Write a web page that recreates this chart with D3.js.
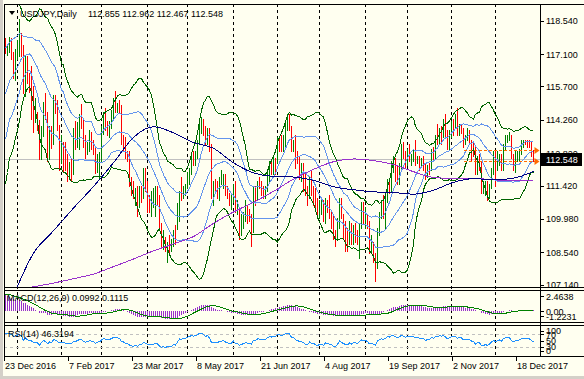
<!DOCTYPE html>
<html><head><meta charset="utf-8">
<script src="https://cdn.jsdelivr.net/npm/d3@7"></script>
<style>
html,body{margin:0;padding:0;background:#fffff0;overflow:hidden;}
svg{display:block;font-family:"Liberation Sans",Arial,sans-serif;}
</style></head><body>
<svg id="c" width="584" height="379"></svg>
<script>
// ---------------- DATA ----------------
const symbolTitle = "USDJPY,Daily";
const lastOHLCText = "112.855 112.962 112.467 112.548";
const firstBarDate = "2016-12-23";
const missingDays = ["2017-12-25"];

const opens = [
117.55,117.30,117.35,117.45,117.10,116.55,
116.95,117.45,117.75,117.25,115.35,116.95,115.95,115.75,115.35,114.45,114.50,114.20,112.70,113.80,114.90,114.55,112.75,113.80,113.25,115.15,115.05,113.95,
112.80,113.20,112.80,112.60,112.30,112.35,111.95,113.25,113.20,113.70,114.25,114.20,113.20,112.90,113.10,113.60,113.30,113.00,112.10,112.70,
112.75,113.70,114.45,114.00,113.90,114.00,114.40,115.00,114.80,114.85,114.75,113.40,113.30,112.70,112.60,111.70,111.20,111.00,111.30,110.60,111.10,111.00,111.90,
111.40,110.90,110.70,110.75,110.80,111.10,110.90,109.60,109.00,109.10,108.60,108.90,108.80,108.90,109.30,109.60,110.00,111.10,111.00,111.30,
111.45,111.90,112.10,112.70,112.50,112.70,113.30,114.00,114.20,113.90,113.35,113.80,113.10,111.20,111.40,111.25,111.10,111.60,111.65,111.80,111.30,111.00,110.70,
110.80,111.40,110.40,110.45,109.50,109.80,110.00,110.30,110.10,110.00,109.60,111.00,110.85,111.50,111.45,111.30,111.25,111.30,111.90,112.30,112.25,112.50,
112.40,113.30,113.25,113.20,113.30,113.90,114.05,113.95,113.20,113.30,112.60,112.55,112.00,112.05,111.90,111.10,111.00,111.70,111.30,111.20,110.65,
110.30,110.60,110.65,110.05,110.70,110.60,110.30,110.05,109.20,109.15,109.70,110.70,110.10,109.60,109.20,109.00,109.60,109.00,109.60,109.35,109.20,109.70,110.30,
110.00,110.20,109.70,108.70,108.80,108.40,107.85,109.40,110.20,110.50,110.20,110.80,111.60,111.50,112.30,112.50,112.00,111.70,112.20,113.20,112.80,
112.50,112.80,112.70,112.75,112.80,112.60,112.65,112.40,112.50,112.30,111.80,112.20,112.15,112.90,112.60,113.50,113.40,113.85,113.70,114.10,113.65,113.20,
113.60,114.10,114.05,114.10,113.70,114.00,113.85,113.40,113.50,113.60,113.40,113.10,113.05,112.10,112.60,112.40,111.20,111.25,111.50,111.10,111.40,112.00,
112.50,112.10,112.40,112.60,112.20,113.10,113.45,113.50,113.55,112.60,112.35,112.60,112.65,112.90,113.30,113.35,113.30,113.25,113.20,112.855];

const highs = [
117.80,117.50,117.85,117.80,117.20,117.30,
117.70,118.60,118.00,117.50,117.05,117.00,116.30,116.60,115.70,115.20,114.60,114.25,114.00,115.05,115.40,114.60,114.00,114.00,115.35,115.35,115.10,114.05,
113.60,113.30,113.30,112.80,112.45,112.60,113.90,114.20,114.15,114.50,114.95,114.25,113.60,113.30,113.80,113.75,113.40,113.10,112.80,112.85,
114.00,114.60,114.75,114.20,114.20,114.70,115.20,115.50,115.00,115.10,114.90,113.60,113.50,112.90,112.90,111.80,111.60,111.30,111.40,111.40,111.40,112.20,112.20,
111.60,111.00,111.20,111.30,111.40,111.40,111.00,109.80,109.50,109.20,109.00,109.30,109.10,109.50,109.70,110.65,111.20,111.80,111.40,111.50,
112.00,112.20,112.80,112.90,112.90,113.40,114.10,114.40,114.30,114.00,113.90,113.90,113.20,111.60,111.70,111.60,111.80,112.10,111.90,111.90,111.40,111.10,111.00,
111.50,111.60,110.80,110.50,110.20,110.30,110.80,110.60,110.40,110.20,111.40,111.40,111.60,111.80,111.60,111.40,111.40,112.00,112.50,112.50,112.70,112.60,
113.50,113.50,113.60,113.60,114.20,114.50,114.50,114.00,113.40,113.60,112.90,112.70,112.40,112.40,112.00,111.40,111.80,112.10,111.40,111.30,110.90,
110.80,110.90,110.80,110.90,110.80,111.00,110.30,110.10,109.50,110.00,110.90,110.90,110.20,109.90,109.60,109.90,109.80,109.70,109.80,109.50,109.80,110.70,110.70,
110.50,110.20,109.90,109.30,109.00,108.50,109.60,110.30,110.80,111.00,111.10,111.70,111.70,112.50,112.70,112.60,112.30,112.40,113.20,113.30,112.90,
113.00,113.20,112.80,113.00,113.40,112.70,112.70,112.60,112.70,112.40,112.30,112.40,113.00,113.10,113.60,114.10,113.90,114.00,114.30,114.50,113.80,113.80,
114.20,114.30,114.50,114.75,114.10,114.10,113.90,113.60,113.90,113.80,113.40,113.30,113.10,112.70,112.80,112.50,111.60,111.60,111.60,111.50,112.20,112.90,
112.90,112.90,112.80,112.80,113.20,113.60,113.60,113.75,113.60,112.80,112.90,112.90,113.00,113.40,113.40,113.40,113.40,113.40,113.30,112.962];

const lows = [
117.15,117.05,117.20,116.90,116.05,116.00,
116.90,117.00,117.00,115.40,115.30,115.85,115.45,114.30,113.75,114.15,113.80,112.55,112.55,113.55,114.30,112.50,112.55,113.05,113.20,114.55,113.80,112.10,
112.40,112.05,112.10,111.60,111.70,111.60,111.90,113.00,113.10,113.00,113.90,113.10,112.60,112.80,112.90,113.00,112.80,111.95,112.00,111.70,
112.50,113.65,113.80,113.60,113.50,113.90,114.30,114.60,114.60,114.60,113.20,112.90,112.60,112.50,111.40,111.00,110.90,110.60,110.10,110.50,110.70,110.90,111.20,
110.30,110.30,110.10,110.50,110.10,110.60,109.50,108.80,108.70,108.60,108.10,108.50,108.60,108.80,108.90,109.55,109.90,110.80,110.90,111.00,
111.30,111.50,111.90,112.30,112.30,112.60,113.20,113.70,113.60,113.20,113.20,112.90,110.90,110.60,111.10,110.90,110.80,111.50,111.30,111.00,110.90,110.60,110.40,
110.70,110.30,110.20,109.10,109.30,109.60,109.90,109.80,109.90,108.80,109.40,110.60,110.80,111.30,111.00,110.90,110.90,111.20,111.60,111.90,111.90,111.90,
112.40,112.90,112.90,112.90,113.10,113.80,113.80,112.90,112.90,112.20,112.40,111.70,111.60,111.20,111.00,110.60,110.90,111.00,110.60,110.40,110.20,
110.00,110.20,109.90,109.80,110.30,110.00,109.60,109.10,108.80,109.10,109.60,110.00,109.10,108.60,108.60,108.90,108.90,108.90,109.00,108.90,108.30,109.60,109.80,
109.60,109.60,108.50,108.50,108.10,107.30,107.85,109.30,110.00,110.00,109.60,110.70,111.10,111.20,112.00,111.60,111.50,111.50,112.10,112.60,112.20,
112.30,112.50,112.30,112.50,112.30,112.40,112.10,112.30,112.10,111.70,111.80,111.90,112.10,112.50,112.60,113.20,113.20,113.20,113.50,113.50,113.00,113.00,
113.50,113.60,113.90,113.60,113.60,113.70,113.10,113.20,113.40,113.30,112.50,112.70,111.90,111.90,112.10,111.10,111.10,111.00,110.80,110.90,111.30,111.90,
111.40,112.10,112.30,112.10,112.10,113.00,113.30,113.40,112.60,112.10,112.00,112.50,112.50,112.80,113.10,113.20,113.10,113.10,112.70,112.467];

const closes = [
117.30,117.35,117.45,117.10,116.55,116.95,
117.45,117.75,117.25,115.35,116.95,115.95,115.75,115.35,114.45,114.50,114.20,112.70,113.80,114.90,114.55,112.75,113.80,113.25,115.15,115.05,113.95,112.80,
113.20,112.80,112.60,112.30,112.35,111.95,113.25,113.20,113.70,114.25,114.20,113.20,112.90,113.10,113.60,113.30,113.00,112.10,112.70,112.75,
113.70,114.45,114.00,113.90,114.00,114.40,115.00,114.80,114.85,114.75,113.40,113.30,112.70,112.60,111.70,111.20,111.00,111.30,110.60,111.10,111.00,111.90,111.40,
110.90,110.70,110.75,110.80,111.10,110.90,109.60,109.00,109.10,108.60,108.90,108.80,108.90,109.30,109.10,110.00,111.10,111.00,111.30,111.45,
111.90,112.10,112.70,112.50,112.70,113.30,114.00,114.20,113.90,113.35,113.80,113.10,111.20,111.40,111.25,111.10,111.60,111.65,111.80,111.30,111.00,110.70,110.80,
111.40,110.40,110.45,109.50,109.80,110.00,110.30,110.10,110.00,109.60,111.00,110.85,111.50,111.45,111.30,111.25,111.30,111.90,112.30,112.25,112.50,112.40,
113.30,113.25,113.20,113.30,113.90,114.05,113.95,113.20,113.30,112.60,112.55,112.00,112.05,111.90,111.10,111.00,111.70,111.30,111.20,110.65,110.30,
110.60,110.65,110.05,110.70,110.60,110.30,110.05,109.20,109.15,109.70,110.70,110.10,109.60,109.20,109.00,109.60,109.00,109.60,109.35,109.20,109.70,110.30,110.00,
110.20,109.70,108.70,108.80,108.40,107.85,109.40,110.20,110.50,110.20,110.80,111.60,111.50,112.30,112.50,112.00,111.70,112.20,113.20,112.80,112.50,
112.80,112.70,112.75,112.80,112.60,112.65,112.40,112.50,112.30,111.80,112.20,112.15,112.90,112.60,113.50,113.40,113.85,113.70,114.10,113.65,113.20,113.60,
114.10,114.05,114.10,113.70,114.00,113.85,113.40,113.50,113.60,113.40,113.10,113.05,112.10,112.60,112.40,111.20,111.25,111.50,111.10,111.40,112.00,112.50,
112.10,112.40,112.60,112.20,113.10,113.45,113.50,113.55,112.60,112.35,112.60,112.65,112.90,113.30,113.35,113.30,113.25,113.20,112.85,112.548];

// closes before the first visible bar (estimated from the band widths at the left edge)
const priorCloses = [112.0,111.9,114.4,114.0,113.5,114.1,114.0,113.7,114.0,115.3,115.2,115.4,117.1,118.1,117.9,117.0,117.8,117.5,117.6];
const macdSeed = [111.5, 109.3];

// moving averages (bar index -> price)
const maIdx    = [4,14,24,34,44,54,64,74,84,94,104,114,124,134,144,154,164,174,184,194,204,214,224,234,244,254,264];
const maNavy   = [106.67,108.50,109.47,110.45,111.38,112.41,113.50,113.96,113.70,113.28,113.03,112.40,111.97,111.82,111.79,111.65,111.37,111.24,111.15,111.12,111.05,111.22,111.56,111.72,111.67,111.74,112.03];
const maPurple = [106.89,107.05,107.21,107.40,107.60,107.92,108.25,108.60,108.90,109.22,109.79,110.28,110.70,111.17,111.70,112.12,112.45,112.57,112.50,112.33,112.02,111.77,111.73,111.73,111.67,111.63,111.62];

const priceTickLabels = ["118.540","117.100","115.700","114.260","112.820","111.420","109.980","108.540","107.140"];
const lastPrice = 112.548;
const hiLoStartIdx = 229;
const dateLabelIdx = [0,32,64,96,128,160,192,224,256];
const macdText = "MACD(12,26,9) 0.0992 0.1115";
const macdTickValues = [2.4638, 0, -1.2231];
const macdTickLabels = ["2.4638","0.00","-1.2231"];
const rsiText = "RSI(14) 46.3194";
const rsiTickValues = [100,70,50,30,0];
const rsiLevels = [70,30];

// ---------------- LAYOUT ----------------
const W=584,H=379, L=4, R=540;
const mainTop=4, mainBot=287, macdTop=290, macdBot=322, rsiTop=325, rsiBot=356;
const n = closes.length;
const svg = d3.select("#c");

const xs = d3.scaleLinear().domain([0, n-1]).range([5, 5+2*(n-1)]);
const ys = d3.scaleLinear().domain([107.14, 118.54]).range([284.7, 20.7]);
const ym = d3.scaleLinear().domain([-1.2231, 2.4638]).range([321, 291]);
const yr = d3.scaleLinear().domain([0, 100]).range([356, 325]);
const px = i => Math.round(xs(i)) + 0.5;

// dates
const fmtKey = d3.timeFormat("%Y-%m-%d");
const dates = [];
{ const p = firstBarDate.split("-").map(Number); let d = new Date(p[0], p[1]-1, p[2]);
  while (dates.length < n) { const w = d.getDay(); if (w!==0 && w!==6 && !missingDays.includes(fmtKey(d))) dates.push(new Date(d)); d.setDate(d.getDate()+1); } }

// indicators
const allC = priorCloses.concat(closes), P = priorCloses.length;
const bb = closes.map((c,i)=>{ const j=i+P; const w=allC.slice(j-19,j+1); const m=d3.mean(w); const sd=Math.sqrt(d3.mean(w,v=>(v-m)*(v-m))); return {i,m,sd}; });
let e12=macdSeed[0], e26=macdSeed[1]; const macdAll=[];
allC.forEach(c=>{ e12 += (2/13)*(c-e12); e26 += (2/27)*(c-e26); macdAll.push(e12-e26); });
const sigAll = macdAll.map((v,j)=> j>=8 ? d3.mean(macdAll.slice(j-8,j+1)) : null);
const macd = closes.map((c,i)=>({i, v:macdAll[i+P], s:sigAll[i+P]}));
let ag=0, al=0; const rsiAll=[];
for (let j=1;j<allC.length;j++){ const ch=allC[j]-allC[j-1]; const g=Math.max(ch,0), l=Math.max(-ch,0);
  if (j<=14){ ag+=g/14; al+=l/14; } else { ag=(ag*13+g)/14; al=(al*13+l)/14; }
  rsiAll[j] = j>=14 ? (al===0?100:100-100/(1+ag/al)) : null; }
const rsi = closes.map((c,i)=>({i, v:rsiAll[i+P]}));

// ---------------- DRAW ----------------
svg.append("rect").attr("width",W).attr("height",H).attr("fill","#fffff0");
const defs = svg.append("defs");
[["cMain",mainTop,mainBot],["cMacd",macdTop,macdBot],["cRsi",rsiTop,rsiBot]].forEach(([id,t,b])=>{
  defs.append("clipPath").attr("id",id).append("rect").attr("x",L+1).attr("y",t+1).attr("width",R-L-1).attr("height",b-t-1);
});

// month separators
const seps = d3.range(1,n).filter(i=>dates[i].getMonth()!==dates[i-1].getMonth());
svg.append("g").selectAll("line").data(seps).join("line")
  .attr("x1",px).attr("x2",px).attr("y1",mainTop).attr("y2",rsiBot)
  .attr("stroke","#000").attr("stroke-dasharray","3,3").attr("shape-rendering","crispEdges");

const gMain = svg.append("g").attr("clip-path","url(#cMain)");
// bid line
gMain.append("line").attr("x1",L).attr("x2",R).attr("y1",Math.round(ys(lastPrice))+0.5).attr("y2",Math.round(ys(lastPrice))+0.5)
  .attr("stroke","#c0c0c0").attr("shape-rendering","crispEdges");
// bars
gMain.append("g").selectAll("line").data(d3.range(n)).join("line")
  .attr("x1",px).attr("x2",px).attr("y1",i=>Math.round(ys(highs[i]))).attr("y2",i=>Math.round(ys(lows[i]))+1)
  .attr("stroke",i=>closes[i]>=opens[i]?"#008000":"#ff0000").attr("shape-rendering","crispEdges");
// bollinger
const lineB = k => d3.line().x(d=>xs(d.i)+0.5).y(d=>ys(d.m+k*d.sd));
[[2,"#006400"],[-2,"#006400"],[1,"#6495ed"],[0,"#6495ed"],[-1,"#6495ed"]].forEach(([k,c])=>{
  gMain.append("path").datum(bb).attr("d",lineB(k)).attr("fill","none").attr("stroke",c).attr("stroke-width",1).attr("shape-rendering","crispEdges");
});
// moving averages
const maLine = vals => d3.line().curve(d3.curveMonotoneX).x((d,j)=>xs(maIdx[j])+0.5).y(d=>ys(d))(vals);
gMain.append("path").attr("d",maLine(maPurple)).attr("fill","none").attr("stroke","#9932cc").attr("stroke-width",1).attr("shape-rendering","crispEdges");
gMain.append("path").attr("d",maLine(maNavy)).attr("fill","none").attr("stroke","#000080").attr("stroke-width",1).attr("shape-rendering","crispEdges");
// last bar high/low lines
[highs[n-1], lows[n-1]].forEach(v=>{
  const y = Math.round(ys(v))+0.5;
  gMain.append("line").attr("x1",px(hiLoStartIdx)).attr("x2",px(n-1)+2).attr("y1",y).attr("y2",y)
    .attr("stroke","#ff6a00").attr("stroke-dasharray","3,2").attr("shape-rendering","crispEdges");
  gMain.append("path").attr("d",`M${px(n-1)+1},${y-3.5}L${px(n-1)+6},${y}L${px(n-1)+1},${y+3.5}Z`).attr("fill","#ff6a00");
});

// MACD pane
const gMacd = svg.append("g").attr("clip-path","url(#cMacd)");
gMacd.append("g").selectAll("line").data(macd).join("line")
  .attr("x1",d=>px(d.i)).attr("x2",d=>px(d.i)).attr("y1",ym(0)).attr("y2",d=>ym(d.v))
  .attr("stroke","#9932cc").attr("shape-rendering","crispEdges");
gMacd.append("path").datum(macd).attr("d",d3.line().x(d=>xs(d.i)+0.5).y(d=>ym(d.s)))
  .attr("fill","none").attr("stroke","#008000").attr("stroke-width",1).attr("shape-rendering","crispEdges");

// RSI pane
const gRsi = svg.append("g").attr("clip-path","url(#cRsi)");
rsiLevels.forEach(v=>{
  gRsi.append("line").attr("x1",L).attr("x2",R).attr("y1",Math.round(yr(v))+0.5).attr("y2",Math.round(yr(v))+0.5)
    .attr("stroke","#c0c0c0").attr("stroke-dasharray","3,3").attr("shape-rendering","crispEdges");
});
gRsi.append("path").datum(rsi).attr("d",d3.line().x(d=>xs(d.i)+0.5).y(d=>yr(d.v)))
  .attr("fill","none").attr("stroke","#1e90ff").attr("stroke-width",1).attr("shape-rendering","crispEdges");

// frame
const fr = svg.append("g").attr("stroke","#000").attr("shape-rendering","crispEdges");
[mainTop,mainBot,macdTop,macdBot,rsiTop,rsiBot].forEach(y=>fr.append("line").attr("x1",L).attr("x2",W).attr("y1",y+0.5).attr("y2",y+0.5));
fr.append("line").attr("x1",L+0.5).attr("x2",L+0.5).attr("y1",mainTop).attr("y2",rsiBot+1);
fr.append("line").attr("x1",R+0.5).attr("x2",R+0.5).attr("y1",mainTop).attr("y2",rsiBot+1);
svg.append("rect").attr("x",0).attr("y",0).attr("width",3).attr("height",H).attr("fill","#d4d0c8");
svg.append("rect").attr("x",0).attr("y",376).attr("width",W).attr("height",3).attr("fill","#d4d0c8");

// text
const T = (x,y,s,o={}) => { const t=svg.append("text").attr("x",x).attr("y",y).text(s).attr("font-size",o.fs||9).attr("fill",o.fill||"#000"); return t; };
svg.append("path").attr("d","M9,11L15,11L12,15Z").attr("fill","#000");
T(20,17,symbolTitle);
T(88,17,lastOHLCText);
// price axis
priceTickLabels.forEach(s=>{ const y=ys(+s);
  svg.append("line").attr("x1",R).attr("x2",R+4).attr("y1",Math.round(y)+0.5).attr("y2",Math.round(y)+0.5).attr("stroke","#000").attr("shape-rendering","crispEdges");
  T(546,y+3.5,s); });
// last price box
{ const y=ys(lastPrice);
  svg.append("rect").attr("x",540).attr("y",Math.round(y)-6).attr("width",42).attr("height",13).attr("fill","#000");
  T(546,y+3.5,lastPrice.toFixed(3),{fill:"#fff"}); }
// macd axis
macdTickValues.forEach((v,k)=>{ const y=Math.max(macdTop+6,Math.min(macdBot-6,ym(v)));
  svg.append("line").attr("x1",R).attr("x2",R+4).attr("y1",Math.round(y)+0.5).attr("y2",Math.round(y)+0.5).attr("stroke","#000").attr("shape-rendering","crispEdges");
  T(546,y+3.5,macdTickLabels[k]); });
T(7,301,macdText);
// rsi axis
rsiTickValues.forEach(v=>{ const y=Math.max(rsiTop+5.5,Math.min(rsiBot-5.5,yr(v)));
  svg.append("line").attr("x1",R).attr("x2",R+4).attr("y1",Math.round(y)+0.5).attr("y2",Math.round(y)+0.5).attr("stroke","#000").attr("shape-rendering","crispEdges");
  T(546,y+3.5,String(v)); });
T(8,336.5,rsiText);
// date axis
const fmtDate = d3.timeFormat("%-d %b %Y");
dateLabelIdx.forEach(i=>{
  svg.append("line").attr("x1",px(i)-1).attr("x2",px(i)-1).attr("y1",rsiBot).attr("y2",rsiBot+5).attr("stroke","#000").attr("shape-rendering","crispEdges");
  T(Math.round(xs(i)),369,fmtDate(dates[i]));
});
</script>
</body></html>
